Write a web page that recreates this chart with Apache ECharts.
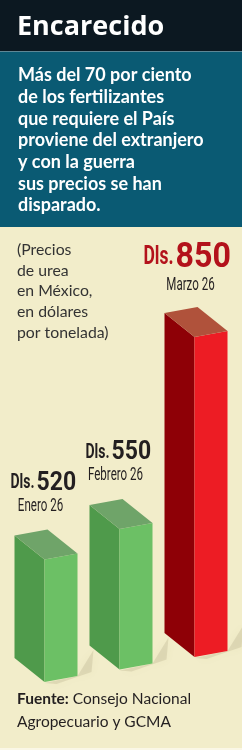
<!DOCTYPE html>
<html>
<head>
<meta charset="utf-8">
<script src="https://cdn.jsdelivr.net/npm/echarts@6/dist/echarts.min.js"></script>
<style>
  html, body { margin: 0; padding: 0; background: #f2edca; }
  #chart { width: 242px; height: 750px; }
</style>
</head>
<body>
<div id="chart"></div>
<script>
var months = ['Enero 26', 'Febrero 26', 'Marzo 26'];
var prices = [520, 550, 850];
var axisMin = 315;
var axisMax = 850;

var bodyLines = [
    'Más del 70 por ciento',
    'de los fertilizantes',
    'que requiere el País',
    'proviene del extranjero',
    'y con la guerra',
    'sus precios se han',
    'disparado.'
];
var noteLines = ['(Precios', 'de urea', 'en México,', 'en dólares', 'por tonelada)'];

var green = { front: '#6cc065', side: '#4f9a4b', top: '#6fa469' };
var red = { front: '#ed1c24', side: '#8e0006', top: '#b0523b' };

function renderBox(params, api) {
    var i = params.dataIndex;
    var big = i === prices.length - 1;
    var c = big ? red : green;
    var topPt = api.coord([i, api.value(1)]);
    var botPt = api.coord([i, axisMin]);
    var x0 = api.coord([0, axisMin])[0];
    // perspective tilt of the baseline
    var dy = -(topPt[0] - x0) * 0.167;
    var fx = topPt[0], ty = topPt[1] + dy, fy = botPt[1] + dy;
    var fw = 33, sw = 30, sdy = 24, rdy = 6;

    var children = [
        {
            type: 'polygon',
            shape: { points: [[fx, fy + 1], [fx + fw, fy - rdy], [fx + fw + 16, fy - rdy - 26], [fx + fw + 14, fy - rdy - 4], [fx + 12, fy + 2]] },
            style: { fill: 'rgba(130,120,80,0.16)', shadowBlur: 9, shadowColor: 'rgba(130,120,80,0.35)' }
        },
        {
            type: 'polygon',
            shape: { points: [[fx - sw, ty - sdy], [fx, ty], [fx, fy], [fx - sw, fy - sdy]] },
            style: { fill: c.side }
        },
        {
            type: 'polygon',
            shape: { points: [[fx, ty], [fx + fw, ty - rdy], [fx + fw, fy - rdy], [fx, fy]] },
            style: { fill: c.front }
        },
        {
            type: 'polygon',
            shape: { points: [[fx - sw, ty - sdy], [fx - sw + fw, ty - sdy - rdy], [fx + fw, ty - rdy], [fx, ty]] },
            style: { fill: c.top }
        }
    ];

    var labelColor = big ? '#b3121b' : '#231f20';
    var split = big ? fx - 21 : fx - 10;
    var vy = big ? ty - 79 : ty - 76;
    var my = big ? ty - 51 : ty - 53;
    children.push({
        type: 'text', x: split, y: vy, scaleX: 0.7,
        style: { text: 'Dls.', font: 'bold ' + (big ? 25 : 20) + 'px Roboto', fill: labelColor, align: 'right', verticalAlign: 'middle' }
    });
    children.push({
        type: 'text', x: split + 2, y: vy, scaleX: 0.92,
        style: { text: String(api.value(1)), font: 'bold ' + (big ? 35 : 25) + 'px Roboto', fill: labelColor, align: 'left', verticalAlign: 'middle' }
    });
    children.push({
        type: 'text', x: fx - 4, y: my, scaleX: 0.66,
        style: { text: months[i], font: '17.5px Roboto', fill: '#231f20', align: 'center', verticalAlign: 'middle' }
    });

    return { type: 'group', children: children };
}

var chart = echarts.init(document.getElementById('chart'));
chart.setOption({
    backgroundColor: '#f2edca',
    animation: false,
    grid: { left: 7, right: 10, top: 362, bottom: 68 },
    xAxis: { type: 'category', data: months, show: false },
    yAxis: { type: 'value', min: axisMin, max: axisMax, show: false },
    graphic: [
        { type: 'rect', shape: { x: 0, y: 0, width: 242, height: 51 }, style: { fill: '#0c1821' } },
        { type: 'rect', shape: { x: 0, y: 51, width: 242, height: 1 }, style: { fill: '#5e8796' } },
        { type: 'rect', shape: { x: 0, y: 52, width: 242, height: 175 }, style: { fill: '#0a5a73' } },
        { type: 'rect', shape: { x: 0, y: 748, width: 242, height: 2 }, style: { fill: '#faf7e6' } },
        {
            type: 'text', x: 17, y: 27,
            style: { text: 'Encarecido', font: 'bold 27px "Open Sans"', fill: '#ffffff', verticalAlign: 'middle' }
        },
        {
            type: 'text', x: 18, y: 64.5,
            style: { text: bodyLines.join('\n'), font: 'bold 18px Lato', lineHeight: 21.7, fill: '#ffffff', verticalAlign: 'top' }
        },
        {
            type: 'text', x: 17, y: 239.5,
            style: { text: noteLines.join('\n'), font: '15.8px Lato', lineHeight: 20.75, fill: '#333333', verticalAlign: 'top' }
        },
        {
            type: 'text', x: 17, y: 687.5,
            style: {
                text: '{b|Fuente:} Consejo Nacional\nAgropecuario y GCMA',
                font: '15.5px Lato', lineHeight: 23, fill: '#231f20', verticalAlign: 'top',
                rich: { b: { font: 'bold 15.5px Lato', fill: '#231f20', lineHeight: 23 } }
            }
        }
    ],
    series: [{
        type: 'custom',
        renderItem: renderBox,
        data: prices.map(function (v, i) { return [i, v]; })
    }]
});
</script>
</body>
</html>
